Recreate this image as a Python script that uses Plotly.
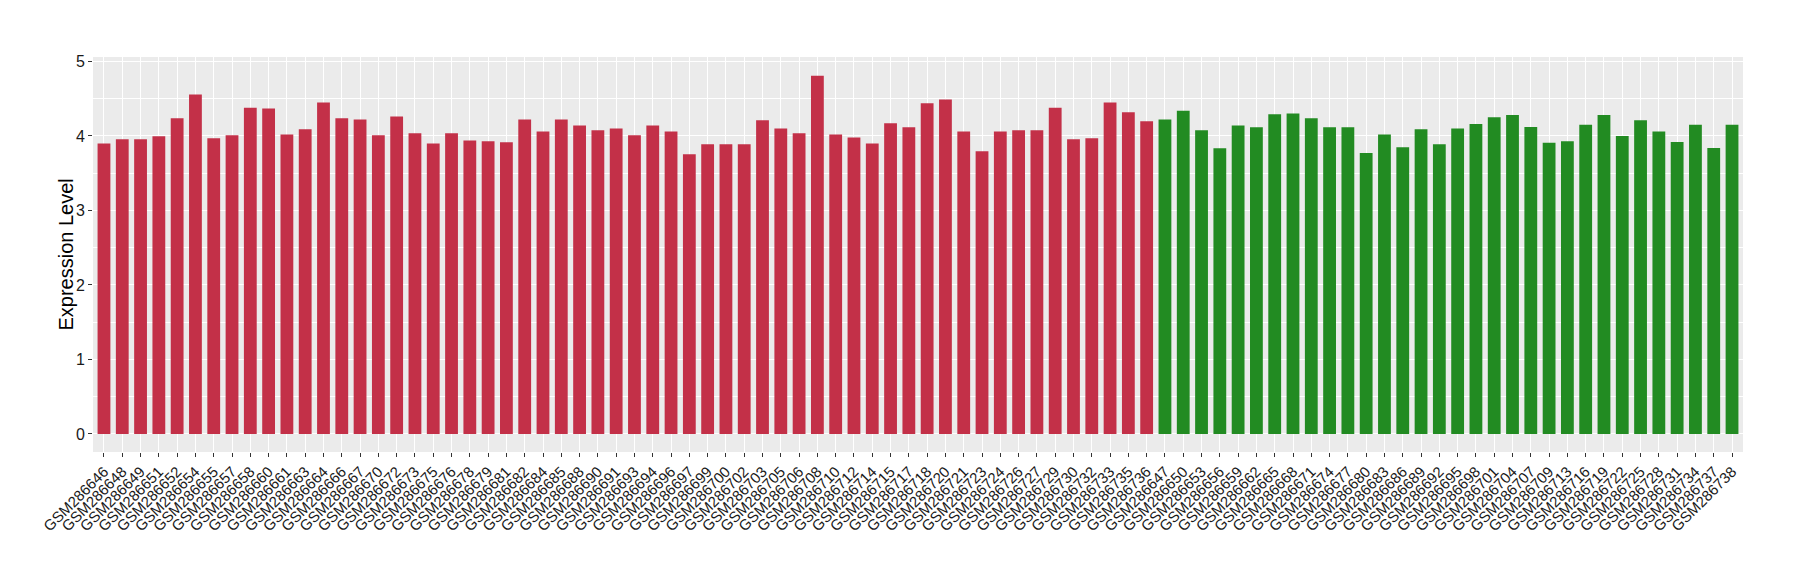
#%% [Libraries]
import plotly.graph_objects as go

# %% [Data]

red_samples = ["GSM286646", "GSM286648", "GSM286649", "GSM286651", "GSM286652", "GSM286654",
               "GSM286655", "GSM286657", "GSM286658", "GSM286660", "GSM286661", "GSM286663",
               "GSM286664", "GSM286666", "GSM286667", "GSM286670", "GSM286672", "GSM286673",
               "GSM286675", "GSM286676", "GSM286678", "GSM286679", "GSM286681", "GSM286682",
               "GSM286684", "GSM286685", "GSM286688", "GSM286690", "GSM286691", "GSM286693",
               "GSM286694", "GSM286696", "GSM286697", "GSM286699", "GSM286700", "GSM286702",
               "GSM286703", "GSM286705", "GSM286706", "GSM286708", "GSM286710", "GSM286712",
               "GSM286714", "GSM286715", "GSM286717", "GSM286718", "GSM286720", "GSM286721",
               "GSM286723", "GSM286724", "GSM286726", "GSM286727", "GSM286729", "GSM286730",
               "GSM286732", "GSM286733", "GSM286735", "GSM286736"]
red_values = [3.90, 3.955, 3.955, 3.995, 4.237, 4.558, 3.97, 4.01, 4.38, 4.37, 4.02, 4.09,
              4.45, 4.237, 4.22, 4.01, 4.26, 4.035, 3.90, 4.035, 3.94, 3.93, 3.915, 4.22,
              4.06, 4.22, 4.14, 4.076, 4.10, 4.01, 4.14, 4.06, 3.755, 3.89, 3.89, 3.89,
              4.21, 4.10, 4.035, 4.81, 4.02, 3.98, 3.90, 4.17, 4.116, 4.44, 4.49, 4.06,
              3.795, 4.06, 4.076, 4.076, 4.38, 3.955, 3.97, 4.45, 4.32, 4.196]

green_samples = ["GSM286647", "GSM286650", "GSM286653", "GSM286656", "GSM286659", "GSM286662",
                 "GSM286665", "GSM286668", "GSM286671", "GSM286674", "GSM286677", "GSM286680",
                 "GSM286683", "GSM286686", "GSM286689", "GSM286692", "GSM286695", "GSM286698",
                 "GSM286701", "GSM286704", "GSM286707", "GSM286709", "GSM286713", "GSM286716",
                 "GSM286719", "GSM286722", "GSM286725", "GSM286728", "GSM286731", "GSM286734",
                 "GSM286737", "GSM286738"]
green_values = [4.22, 4.34, 4.076, 3.835, 4.14, 4.116, 4.29, 4.30, 4.237, 4.116, 4.116, 3.77,
                4.02, 3.85, 4.09, 3.89, 4.10, 4.16, 4.25, 4.28, 4.12, 3.91, 3.93, 4.15,
                4.28, 4.00, 4.21, 4.06, 3.92, 4.15, 3.84, 4.15]

y_ticks = [0, 1, 2, 3, 4, 5]

# %% [Plot]

all_samples = red_samples + green_samples

fig = go.Figure()
fig.add_trace(
    go.Bar(
        x = red_samples,
        y = red_values,
        width = 0.7,
        marker_color = "#C33048",
        marker_line_width = 0,
        name = "red"
    )
)
fig.add_trace(
    go.Bar(
        x = green_samples,
        y = green_values,
        width = 0.7,
        marker_color = "#228B22",
        marker_line_width = 0,
        name = "green"
    )
)

# page body has an 8px margin, so the figure is a bit smaller than the window
fig.update_layout(
    width = 1792,
    height = 572,
    barmode = "overlay",
    showlegend = False,
    paper_bgcolor = "white",
    plot_bgcolor = "#EBEBEB",
    margin = dict(l = 85, r = 57, t = 49, b = 128, autoexpand = False),
    font = dict(family = "Liberation Sans, Arial, sans-serif", color = "#1a1a1a"),
)

fig.update_xaxes(
    categoryorder = "array",
    categoryarray = all_samples,
    range = [-0.6, len(all_samples) - 0.4],
    tickangle = -45,
    tickfont = dict(size = 15, color = "#1a1a1a"),
    ticks = "outside",
    ticklen = 4,
    tickcolor = "#333333",
    showgrid = True,
    gridcolor = "white",
    gridwidth = 1.2,
    zeroline = False,
    showline = False,
    automargin = False,
)

fig.update_yaxes(
    range = [-0.242, 5.06],
    tickvals = y_ticks,
    tickfont = dict(size = 16, color = "#1a1a1a"),
    ticks = "outside",
    ticklen = 4,
    tickcolor = "#333333",
    showgrid = True,
    gridcolor = "white",
    gridwidth = 1.2,
    minor = dict(dtick = 0.5, tick0 = 0, showgrid = True, gridcolor = "white", gridwidth = 0.6),
    zeroline = False,
    showline = False,
    automargin = False,
)

# y axis title as annotation so it sits closer to the tick labels
fig.add_annotation(
    text = "Expression Level",
    xref = "paper", yref = "paper",
    x = 0, y = 0.5,
    xanchor = "center", yanchor = "middle",
    xshift = -28,
    textangle = -90,
    showarrow = False,
    font = dict(size = 20, color = "black"),
)

fig.write_html("out.html")
